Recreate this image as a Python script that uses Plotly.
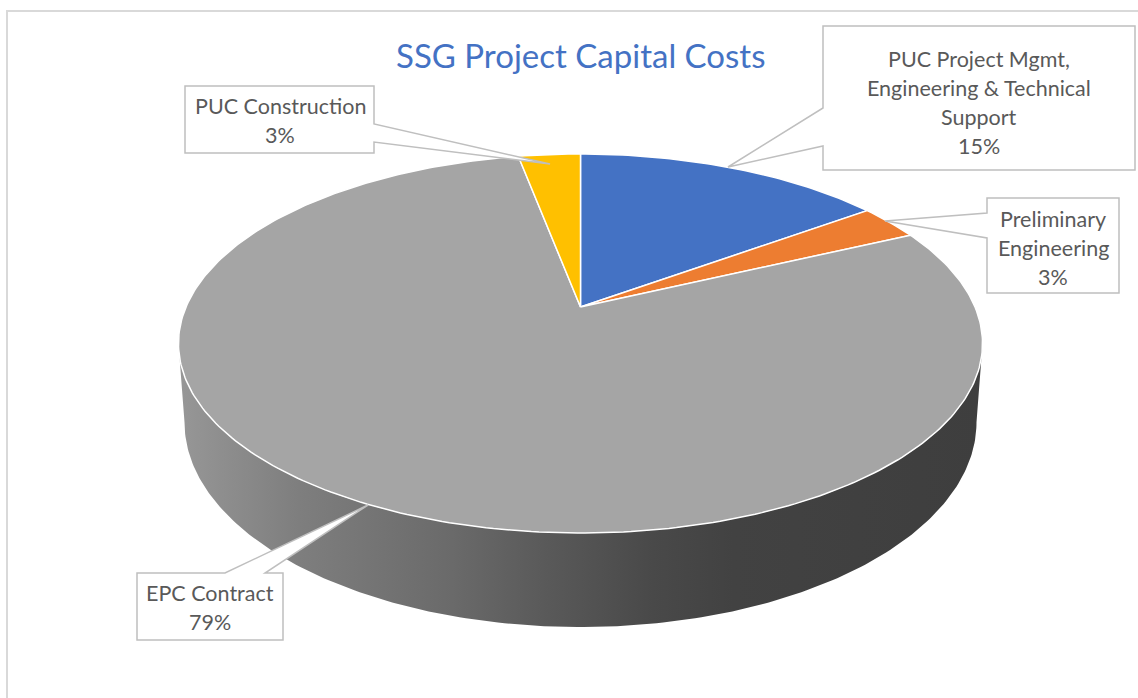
import numpy as np
import plotly.graph_objects as go

# ---------------- data ----------------
categories = ["PUC Project Mgmt, Engineering & Technical Support",
              "Preliminary Engineering", "EPC Contract", "PUC Construction"]
values = [15, 3, 79, 3]
slice_colors = ["#4472C4", "#ED7D31", "#A5A5A5", "#FFC000"]
label_lines = [["PUC Project Mgmt,", "Engineering & Technical", "Support"],
               ["Preliminary", "Engineering"],
               ["EPC Contract"],
               ["PUC Construction"]]
title = "SSG Project Capital Costs"

W, H = 1138, 698
# ---------------- 3D pie geometry (perspective ellipse) ----------------
X0, Y0 = 580.5, 307.0      # centre of the top face
A, B = 394.5, 182.5        # radii
K = 0.1926                 # perspective factor
DEPTH = 75.9               # side depth
BOTTOM_SHRINK = 0.985


def proj(theta, bottom=False):
    u = np.sin(theta)
    v = -np.cos(theta)
    s = 1.0 / (1.0 - K * v)
    if bottom:
        x = X0 + A * u * s * BOTTOM_SHRINK
        y = Y0 + B * v * s + DEPTH * s
    else:
        x = X0 + A * u * s
        y = Y0 + B * v * s
    return x, y


fig = go.Figure()

# side (front wall) with horizontal gradient
th_r = np.pi / 2 + np.arcsin(K)
th_l = 3 * np.pi / 2 - np.arcsin(K)
t = np.linspace(th_r, th_l, 200)
xt, yt = proj(t)
xb, yb = proj(t[::-1], bottom=True)
side_x = np.concatenate([xt, xb, xt[:1]])
side_y = np.concatenate([yt, yb, yt[:1]])
fig.add_trace(go.Scatter(
    x=side_x, y=side_y, mode="lines", fill="toself",
    line=dict(color="rgba(0,0,0,0)", width=0),
    fillgradient=dict(type="horizontal", start=float(xt.min()), stop=float(xt.max()),
                      colorscale=[[0.0, "#979797"], [0.15, "#7e7e7e"], [0.34, "#6a6a6a"],
                                  [0.46, "#595959"], [0.59, "#494949"], [0.69, "#424242"],
                                  [1.0, "#3e3e3e"]]),
    hoverinfo="skip", showlegend=False))

# top face slices
total = float(sum(values))
cum = 0.0
for name, val, col in zip(categories, values, slice_colors):
    a0 = cum / total * 2 * np.pi
    cum += val
    a1 = cum / total * 2 * np.pi
    n = max(int((a1 - a0) / (2 * np.pi) * 400), 6)
    tt = np.linspace(a0, a1, n)
    ax, ay = proj(tt)
    px = np.concatenate([[X0], ax, [X0]])
    py = np.concatenate([[Y0], ay, [Y0]])
    fig.add_trace(go.Scatter(
        x=px, y=py, mode="lines", fill="toself", fillcolor=col,
        line=dict(color="white", width=1.5), name=name,
        hoverinfo="skip", showlegend=False))

# ---------------- callout boxes ----------------
box_line = dict(color="#BFBFBF", width=1.5)
callouts = [
    "M 823,26 L 1135,26 L 1135,170 L 823,170 L 823,146 L 728,167 L 823,108 Z",
    "M 987,198 L 1119,198 L 1119,293 L 987,293 L 987,238 L 885,221 L 987,213 Z",
    "M 137,573 L 225,573 L 368,505 L 265,573 L 283,573 L 283,640 L 137,640 Z",
    "M 185,86 L 374,86 L 374,124 L 550,164 L 374,142 L 374,153 L 185,153 Z",
]
shapes = [dict(type="path", path=p, xref="x", yref="y", fillcolor="white",
               line=box_line, layer="above") for p in callouts]
shapes.append(dict(type="rect", xref="x", yref="y", x0=7, y0=11, x1=W + 20, y1=H + 20,
                   line=dict(color="#D9D9D9", width=2), fillcolor="rgba(0,0,0,0)",
                   layer="below"))

label_pos = [(979, 59), (1053, 219), (210, 593), (280, 106)]
line_gap = 29
annotations = []
for lines, val, (cx, cy) in zip(label_lines, values, label_pos):
    all_lines = lines + [f"{val / total * 100:.0f}%"]
    for i, ln in enumerate(all_lines):
        annotations.append(dict(x=cx, y=cy + i * line_gap, xref="x", yref="y",
                                text=ln, showarrow=False, xanchor="center",
                                yanchor="middle",
                                font=dict(family="Lato", size=21.5, color="#595959")))
annotations.append(dict(x=580, y=55, xref="x", yref="y", text=title, showarrow=False,
                        xanchor="center", yanchor="middle",
                        font=dict(family="Lato", size=33, color="#4472C4")))

fig.update_layout(
    width=W, height=H, margin=dict(l=0, r=0, t=0, b=0),
    paper_bgcolor="white", plot_bgcolor="white",
    xaxis=dict(range=[0, W], visible=False, fixedrange=True),
    yaxis=dict(range=[H, 0], visible=False, fixedrange=True),
    shapes=shapes, annotations=annotations, showlegend=False,
)
fig.write_html("out.html", config={"displayModeBar": False},
               post_script="document.body.style.margin='0';document.body.style.overflow='hidden';")
